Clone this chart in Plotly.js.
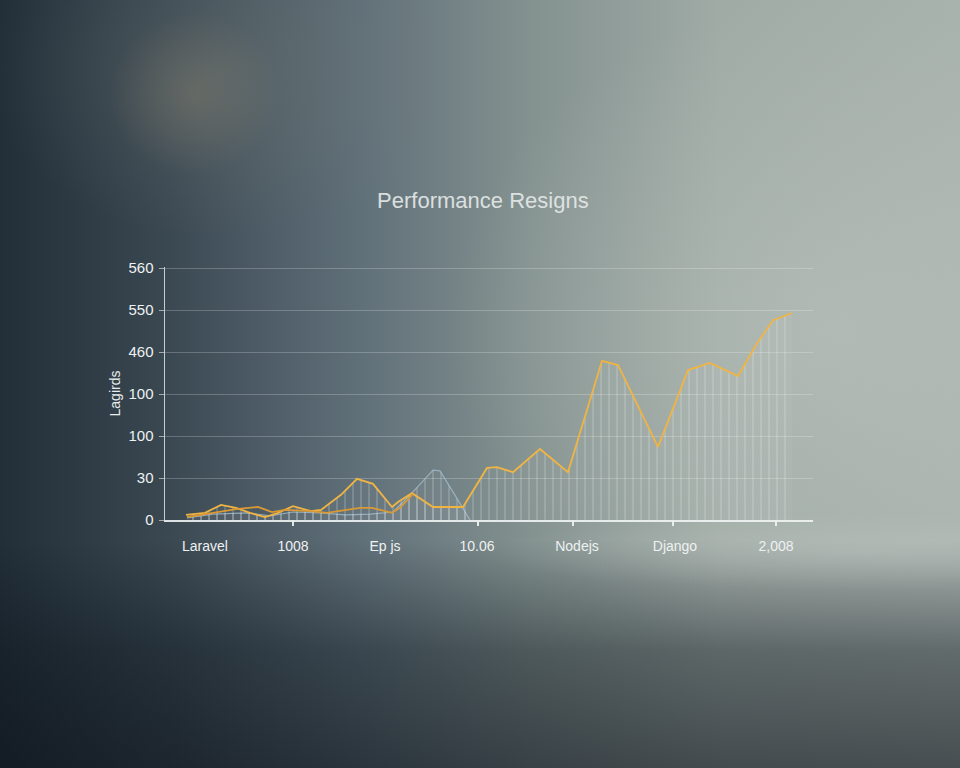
<!DOCTYPE html>
<html>
<head>
<meta charset="utf-8">
<script src="https://cdn.plot.ly/plotly-3.0.1.min.js"></script>
<style>
html, body { margin: 0; padding: 0; }
body {
  width: 960px; height: 768px; overflow: hidden;
  background:
    radial-gradient(ellipse 85px 80px at 195px 95px, rgba(128,124,108,0.45), rgba(128,124,108,0) 100%),
    radial-gradient(ellipse 230px 170px at 220px 70px, rgba(120,124,118,0.32), rgba(120,124,118,0) 100%),
    radial-gradient(ellipse 380px 38px at 860px 552px, rgba(195,202,198,0.32), rgba(195,202,198,0) 100%),
    linear-gradient(to bottom, rgba(12,20,28,0) 0px, rgba(12,20,28,0) 540px, rgba(12,20,28,0.45) 650px, rgba(10,16,24,0.62) 768px),
    radial-gradient(ellipse 380px 330px at 830px 330px, rgba(190,198,192,0.5), rgba(190,198,192,0) 100%),
    linear-gradient(to right, #222e38 0%, #3b4953 18%, #61717a 38%, #83918f 55%, #a0aba6 75%, #a9b3ae 100%);
}
#chart { width: 960px; height: 768px; }
</style>
</head>
<body>
<div id="chart"></div>
<script>
// Category tick labels along the x axis (positions in axis units 0-100)
const xLabelPos = [6.17, 19.75, 33.95, 48.15, 63.58, 78.7, 94.29];
const xLabels = ["Laravel", "1008", "Ep js", "10.06", "Nodejs", "Django", "2,008"];
const xTickMarks = [19.75, 48.3, 62.96, 78.4, 94.3];

// Y tick labels as printed on the chart (one per gridline step)
const yTickPos = [0, 1, 2, 3, 4, 5, 6];
const yTickText = ["0", "30", "100", "100", "460", "550", "560"];

// Main (bright orange) series
const mainX = [3.24, 6.17, 8.64, 10.96, 13.12, 15.43, 17.44, 19.75, 22.53, 24.07, 27.16, 29.63, 32.10, 35.03, 35.96, 38.12, 41.36, 45.99, 49.69, 51.23, 53.70, 57.87, 62.19, 67.44, 69.91, 76.08, 80.71, 84.10, 88.43, 91.36, 93.83, 96.76];
const mainY = [0.12, 0.17, 0.36, 0.29, 0.17, 0.07, 0.17, 0.33, 0.21, 0.24, 0.60, 0.98, 0.86, 0.31, 0.43, 0.64, 0.31, 0.31, 1.24, 1.26, 1.14, 1.69, 1.14, 3.79, 3.69, 1.74, 3.57, 3.74, 3.43, 4.21, 4.76, 4.93];

// Secondary (darker orange) series
const secX = [3.40, 6.17, 10.96, 14.35, 16.51, 18.52, 22.38, 25.0, 27.78, 30.09, 31.94, 35.03, 36.27, 38.27];
const secY = [0.07, 0.14, 0.26, 0.31, 0.19, 0.24, 0.21, 0.17, 0.24, 0.29, 0.29, 0.17, 0.29, 0.62];

// Grey-blue series
const greyX = [3.40, 7.41, 12.65, 16.2, 19.75, 23.92, 27.78, 31.64, 35.19, 38.27, 41.36, 42.44, 44.44, 47.07];
const greyY = [0.05, 0.14, 0.17, 0.10, 0.19, 0.17, 0.12, 0.14, 0.19, 0.67, 1.19, 1.17, 0.67, 0.0];

const hatch = {shape: '|', size: 8, solidity: 0.13, fgcolor: 'rgba(235,242,245,0.33)', bgcolor: 'rgba(255,255,255,0.03)'};

const traces = [
  {x: greyX, y: greyY, type: 'scatter', mode: 'lines', fill: 'tozeroy',
   fillpattern: hatch, line: {color: 'rgba(165,192,210,0.75)', width: 1.2}, hoverinfo: 'skip'},
  {x: mainX, y: mainY, type: 'scatter', mode: 'lines', fill: 'tozeroy',
   fillpattern: hatch, line: {color: '#f0b443', width: 1.8}, hoverinfo: 'skip'},
  {x: secX, y: secY, type: 'scatter', mode: 'lines', xaxis: 'x2',
   line: {color: '#d99a35', width: 1.8}, hoverinfo: 'skip'}
];

const fontFam = '"Liberation Sans", Arial, sans-serif';
const layout = {
  width: 960, height: 768,
  paper_bgcolor: 'rgba(0,0,0,0)', plot_bgcolor: 'rgba(0,0,0,0)',
  margin: {l: 165, r: 147, t: 267, b: 248},
  showlegend: false,
  font: {family: fontFam, color: '#eef1f1'},
  title: {text: 'Performance Resigns', x: 0.503, xref: 'container', xanchor: 'center',
          y: 0.739, yref: 'container', yanchor: 'middle',
          font: {family: fontFam, size: 22, color: 'rgba(228,232,232,0.92)'}},
  xaxis: {range: [0, 100], showgrid: false, zeroline: false, showline: true,
          linecolor: 'rgba(240,244,244,0.9)', linewidth: 2, ticks: '',
          tickmode: 'array', tickvals: xLabelPos, ticktext: xLabels,
          ticklabelstandoff: 12, tickfont: {size: 14, color: '#eef1f1'}},
  xaxis2: {range: [0, 100], overlaying: 'x', side: 'bottom', anchor: 'y',
           showgrid: false, zeroline: false, showline: false, showticklabels: false,
           ticks: 'outside', ticklen: 5, tickwidth: 2, tickcolor: 'rgba(240,244,244,0.9)',
           tickmode: 'array', tickvals: xTickMarks},
  yaxis: {range: [0, 6.025], showgrid: true, gridcolor: 'rgba(255,255,255,0.22)', gridwidth: 1,
          zeroline: false, showline: true, linecolor: 'rgba(235,240,240,0.8)', linewidth: 1.5,
          ticks: 'outside', ticklen: 5, tickcolor: 'rgba(235,240,240,0.6)',
          tickmode: 'array', tickvals: yTickPos, ticktext: yTickText,
          ticklabelstandoff: 2, tickfont: {size: 15, color: '#eef1f1'},
          title: {text: 'Lagirds', standoff: 4, font: {size: 14, color: '#e8ecec'}}}
};

Plotly.newPlot('chart', traces, layout, {displayModeBar: false, staticPlot: true});
</script>
</body>
</html>
